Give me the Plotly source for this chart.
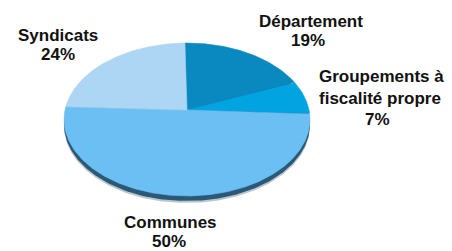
import numpy as np
import plotly.graph_objects as go

# ---- data (clockwise from top) ----
categories = ["Département", "Groupements à fiscalité propre", "Communes", "Syndicats"]
values = [19, 7, 50, 24]
colors = ["#0A88C0", "#02A3E1", "#6CBFF2", "#ADD5F4"]

# label lines per category (display text), percent derived from values
label_lines = {
    "Département": ["Département"],
    "Groupements à fiscalité propre": ["Groupements à", "fiscalité propre"],
    "Communes": ["Communes"],
    "Syndicats": ["Syndicats"],
}

# ---- geometry of the tilted pie (pixels) ----
W, H = 452, 251
CX, CY = 187, 110        # apex of the pie
R = 122                  # radius
C = 0.617                # vertical squash
K = 0.124                # perspective strength
START = 91.1             # start angle (deg, math convention)
DEPTH = 5


def project(theta_deg, dy=0.0):
    t = np.radians(theta_deg)
    u = np.cos(t)
    v = -np.sin(t)
    f = 1.0 / (1.0 - K * v)
    return CX + R * u * f, CY + R * C * v * f + dy


fig = go.Figure()

# side / shadow of the pie (rim shifted down)
rim = np.linspace(0, 360, 361)
for dy, col in [(DEPTH + 2, "rgba(60,90,110,0.35)"), (DEPTH, "#2B5876")]:
    xs, ys = project(rim, dy)
    fig.add_trace(go.Scatter(x=xs, y=ys, mode="lines", fill="toself",
                             fillcolor=col, line=dict(width=0, color=col),
                             hoverinfo="skip", showlegend=False))

# slices
total = sum(values)
ang = START
for cat, val, col in zip(categories, values, colors):
    span = 360.0 * val / total
    th = np.linspace(ang, ang - span, max(8, int(span * 2)))
    ax, ay = project(th)
    xs = np.concatenate([[CX], ax, [CX]])
    ys = np.concatenate([[CY], ay, [CY]])
    fig.add_trace(go.Scatter(x=xs, y=ys, mode="lines", fill="toself",
                             fillcolor=col, line=dict(width=0.6, color=col),
                             name=cat, hoverinfo="name", showlegend=False))
    ang -= span

# label placement (centre x, y of each line)
label_pos = {
    "Département": [(310.5, 21.5), (308, 40.5)],
    "Groupements à fiscalité propre": [(381, 76.7), (380, 98.3), (377, 119.7)],
    "Communes": [(170, 222.5), (169, 241.5)],
    "Syndicats": [(58, 35), (58, 54)],
}

annotations = []
for cat, val in zip(categories, values):
    lines = label_lines[cat] + [f"{val}%"]
    for txt, (x, y) in zip(lines, label_pos[cat]):
        annotations.append(dict(
            x=x, y=y, xref="x", yref="y", text=txt, showarrow=False,
            xanchor="center", yanchor="middle",
            font=dict(family="Liberation Sans, Arial, sans-serif", size=17,
                      color="#111111", weight="bold")))

fig.update_layout(
    width=W, height=H, autosize=False,
    margin=dict(l=0, r=0, t=0, b=0),
    paper_bgcolor="white", plot_bgcolor="white",
    xaxis=dict(range=[0, W], visible=False, fixedrange=True),
    yaxis=dict(range=[H, 0], visible=False, fixedrange=True),
    annotations=annotations,
    showlegend=False,
)

fig.write_html(
    "out.html",
    config={"displayModeBar": False},
    post_script="document.body.style.margin='0';document.body.style.overflow='hidden';",
)
